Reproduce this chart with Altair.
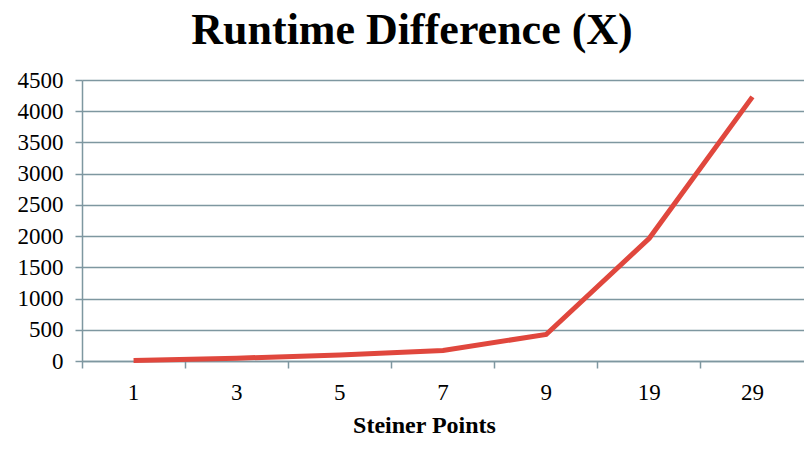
import altair as alt
import pandas as pd

# Runtime difference for each number of Steiner points
steiner_points = ["1", "3", "5", "7", "9", "19", "29"]
runtime_diff = [10, 45, 95, 170, 425, 1965, 4230]

df = pd.DataFrame({"points": steiner_points, "diff": runtime_diff})

GRID = "#7E97A0"
LINE = "#E0473D"
SERIF = "Liberation Serif"

PLOT_W = 722

chart = (
    alt.Chart(df)
    .mark_line(color=LINE, strokeWidth=5)
    .encode(
        x=alt.X(
            "points:N",
            scale=alt.Scale(type="band", domain=steiner_points, paddingInner=0, paddingOuter=0),
            sort=steiner_points,
            axis=alt.Axis(
                title="Steiner Points",
                titleFont=SERIF,
                titleFontSize=24,
                titleFontWeight="bold",
                titleColor="black",
                titlePadding=9,
                titleX=342,
                titleAlign="center",
                labelFont=SERIF,
                labelFontSize=23,
                labelColor="black",
                labelPadding=13,
                labelAngle=0,
                labelAlign="center",
                # ticks on the category edges, labels stay centred in the bands
                bandPosition=0,
                tickSize=7,
                tickColor=GRID,
                tickWidth=1.5,
                domainColor=GRID,
                domainWidth=1.5,
                grid=False,
            ),
        ),
        y=alt.Y(
            "diff:Q",
            scale=alt.Scale(domain=[0, 4500], nice=False),
            axis=alt.Axis(
                title=None,
                values=list(range(0, 4501, 500)),
                format="d",
                labelFont=SERIF,
                labelFontSize=23,
                labelColor="black",
                labelPadding=12,
                tickSize=7,
                tickColor=GRID,
                tickWidth=1.5,
                domainColor=GRID,
                domainWidth=1.5,
                gridColor=GRID,
                gridWidth=1.5,
                gridOpacity=1,
            ),
        ),
    )
    .properties(
        width=PLOT_W,
        height=281,
        autosize=alt.AutoSizeParams(type="none"),
        padding={"left": 82, "top": 80, "right": 0, "bottom": 88},
        title=alt.TitleParams(
            "Runtime Difference (X)",
            font=SERIF,
            fontSize=44,
            fontWeight="bold",
            color="black",
            anchor="middle",
            offset=16,
            dx=-31,
        ),
    )
    .configure_view(stroke=None)
    .configure(background="white")
)

chart.save("out.html", embed_options={"renderer": "svg", "actions": False})
